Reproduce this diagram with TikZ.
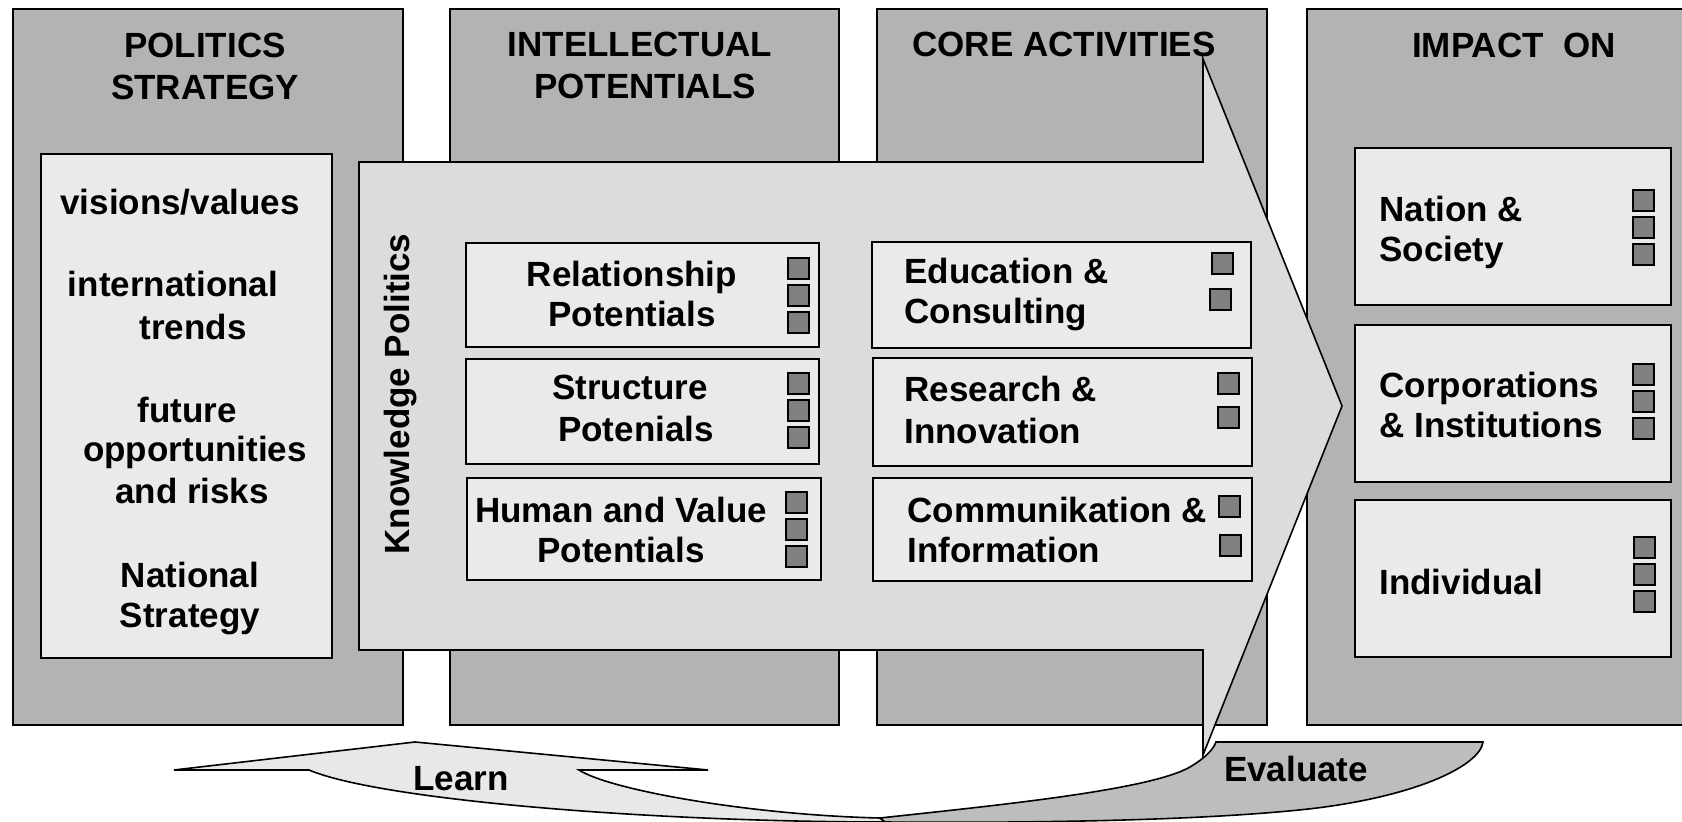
\documentclass[tikz,border=0pt]{standalone}
\usepackage{fontspec}
\setmainfont{Liberation Sans}
\definecolor{colgray}{HTML}{B3B3B3}
\definecolor{arrowgray}{HTML}{DCDCDC}
\definecolor{boxgray}{HTML}{EAEAEA}
\definecolor{sqgray}{HTML}{808080}
\definecolor{evalgray}{HTML}{BDBDBD}
\definecolor{learngray}{HTML}{E8E8E8}
\begin{document}
\begin{tikzpicture}[x=0.5pt,y=-0.5pt,line join=miter,
  col/.style={draw=black,fill=colgray,line width=0.8pt},
  ibox/.style={draw=black,fill=boxgray,line width=0.8pt},
  sq/.style={draw=black,fill=sqgray,line width=0.6pt},
  txt/.style={font=\fontsize{17.5}{20}\selectfont\bfseries,inner sep=0pt,anchor=base},
  ltxt/.style={txt,anchor=base west}]
\useasboundingbox (0,0) rectangle (1682,822);
\clip (0,0) rectangle (1682,822);
\fill[white] (0,0) rectangle (1682,822);
% columns
\draw[col] (13,9) rectangle (403,725);
\draw[col] (450,9) rectangle (839,725);
\draw[col] (877,9) rectangle (1267,725);
\draw[col] (1307,9) rectangle (1700,725);
% column 1 inner box
\draw[ibox] (41,154) rectangle (332,658);
% column 4 boxes
\draw[ibox] (1355,148) rectangle (1671,305);
\draw[ibox] (1355,325) rectangle (1671,482);
\draw[ibox] (1355,500) rectangle (1671,657);
\foreach \y in {190,217,244}{\draw[sq] (1633,\y) rectangle ++(21,21);}
\foreach \y in {364,391,418}{\draw[sq] (1633,\y) rectangle ++(21,21);}
\foreach \y in {537,564,591}{\draw[sq] (1634,\y) rectangle ++(21,21);}
% big arrow
\draw[draw=black,fill=arrowgray,line width=0.8pt]
  (359,162) -- (1203,162) -- (1203,59) -- (1342,406) -- (1203,755) -- (1203,650) -- (359,650) -- cycle;
% column 2 boxes
\draw[ibox] (466,243) rectangle (819,347);
\draw[ibox] (466,359) rectangle (819,464);
\draw[ibox] (467,478) rectangle (821,580);
\foreach \y in {258,285,312}{\draw[sq] (788,\y) rectangle ++(21,21);}
\foreach \y in {373,400,427}{\draw[sq] (788,\y) rectangle ++(21,21);}
\foreach \y in {492,519,546}{\draw[sq] (786,\y) rectangle ++(21,21);}
% column 3 boxes
\draw[ibox] (872,242) rectangle (1251,348);
\draw[ibox] (873,358) rectangle (1252,466);
\draw[ibox] (873,478) rectangle (1252,581);
\draw[sq] (1212,253) rectangle ++(21,21);
\draw[sq] (1210,289) rectangle ++(21,21);
\draw[sq] (1218,373) rectangle ++(21,21);
\draw[sq] (1218,407) rectangle ++(21,21);
\draw[sq] (1219,496) rectangle ++(21,21);
\draw[sq] (1220,535) rectangle ++(21,21);
% learn / evaluate ribbon
\draw[draw=black,fill=learngray,line width=0.8pt]
  (174,770) -- (415,742) -- (708,770) -- (579,770)
  .. controls (610,790) and (750,815) .. (880,818)
  -- (885,822) .. controls (650,822) and (380,800) .. (309,770) -- cycle;
\draw[draw=black,fill=evalgray,line width=0.8pt]
  (880,818) .. controls (1000,805) and (1150,790) .. (1190,767)
  .. controls (1205,758) and (1213,750) .. (1216,742) -- (1483,742)
  .. controls (1480,765) and (1420,795) .. (1317,808)
  .. controls (1200,822) and (1000,823) .. (885,822) -- cycle;
% headings
\node[txt] (h1a) at (205,58) {POLITICS};
\node[txt] (h1b) at (205,100) {STRATEGY};
\node[txt] (h2a) at (640,57) {INTELLECTUAL};
\node[txt] (h2b) at (645,99) {POTENTIALS};
\node[txt] (h3) at (1064,57) {CORE ACTIVITIES};
\node[txt] (h4) at (1514,58) {IMPACT\ \ ON};
% column 1 texts
\node[txt] (c1a) at (180,215) {visions/values};
\node[txt] (c1b) at (173,297) {international};
\node[txt] (c1c) at (193,340) {trends};
\node[txt] (c1d) at (187,423) {future};
\node[txt] (c1e) at (195,462) {opportunities};
\node[txt] (c1f) at (192,504) {and risks};
\node[txt] (c1g) at (190,588) {National};
\node[txt] (c1h) at (190,628) {Strategy};
% knowledge politics
\node[font=\fontsize{17.5}{20}\selectfont\bfseries,inner sep=0pt,rotate=90] (kp) at (401,394) {Knowledge Politics};
% column 2 texts
\node[txt] (r1) at (632,287) {Relationship};
\node[txt] (r2) at (632,327) {Potentials};
\node[txt] (s1) at (630,400) {Structure};
\node[txt] (s2) at (636,442) {Potenials};
\node[txt] (hv1) at (621,523) {Human and Value};
\node[txt] (hv2) at (621,563) {Potentials};
% column 3 texts
\node[ltxt] (e1) at (904,284) {Education \&};
\node[ltxt] (e2) at (904,324) {Consulting};
\node[ltxt] (ri1) at (904,402) {Research \&};
\node[ltxt] (ri2) at (904,444) {Innovation};
\node[ltxt] (ci1) at (907,523) {Communikation \&};
\node[ltxt] (ci2) at (907,563) {Information};
% column 4 texts
\node[ltxt] (n1) at (1379,222) {Nation \&};
\node[ltxt] (n2) at (1379,262) {Society};
\node[ltxt] (co1) at (1379,398) {Corporations};
\node[ltxt] (co2) at (1379,438) {\& Institutions};
\node[ltxt] (ind) at (1379,595) {Individual};
% ribbon labels
\node[txt] (learn) at (461,791) {Learn};
\node[txt] (eval) at (1296,782) {Evaluate};
\end{tikzpicture}
\end{document}
